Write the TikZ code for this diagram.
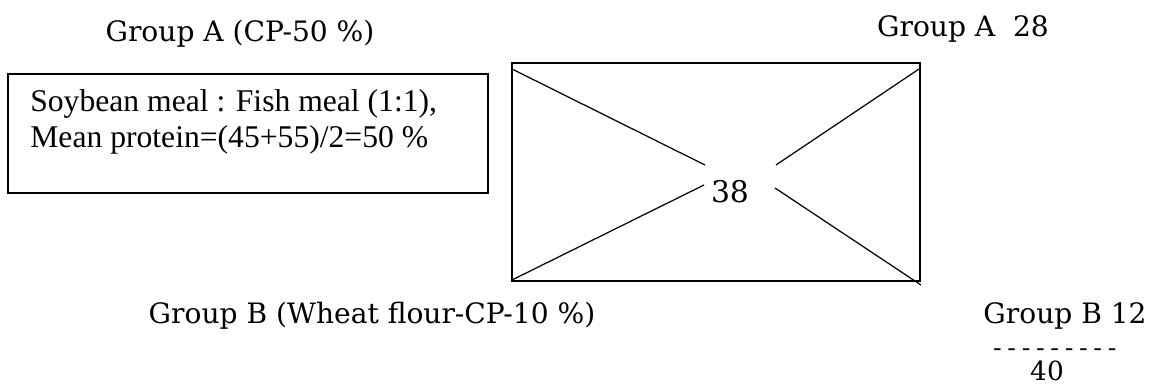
\documentclass[tikz,border=0pt]{standalone}
\usepackage{fontspec}
\setmainfont{Liberation Serif}
\newfontfamily\grpfont{DejaVu Serif}
\begin{document}
\begin{tikzpicture}[x=0.02cm,y=-0.02cm,
    grp/.style={font=\grpfont\fontsize{16}{19}\selectfont, inner sep=0pt},
    mixtext/.style={font=\fontsize{18}{20.5}\selectfont, align=left, inner sep=0pt},
    diag/.style={line width=0.7pt}]
        \useasboundingbox (0,0) rectangle (1154,385);

        \node[grp, anchor=base] (grpA) at (240,42) {Group A (CP-50 \%)};
        \draw[line width=0.6pt] (8,74) rectangle (488,193);
        \node[mixtext, anchor=base west] (mix) at (30,148) {Soybean meal : Fish meal (1:1),\\Mean protein=(45+55)/2=50 \%};

        \draw[line width=0.9pt] (512,63) rectangle (920,281);
        \node[grp, font=\grpfont\fontsize{17}{20}\selectfont, anchor=base] (diff) at (730,203) {38};
        \draw[diag] (512,69) -- (705,165);
        \draw[diag] (512,280) -- (704,185);
        \draw[diag] (919,69) -- (776,165);
        \draw[diag] (921,285) -- (775,188);

        \node[grp, anchor=base] (partA) at (963,37) {Group A\ \ 28};
        \node[grp, anchor=base] (grpB) at (372,323) {Group B (Wheat flour-CP-10 \%)};
        \node[grp, anchor=base east] (partB) at (1147,323) {Group B 12};
        \node[grp, font=\fontsize{14}{17}\selectfont, anchor=base west] (rule) at (993,356) {- - - - - - - - -};
        \node[grp, font=\grpfont\fontsize{15}{18}\selectfont, anchor=base] (total) at (1047,380) {40};
    \end{tikzpicture}
\end{document}
